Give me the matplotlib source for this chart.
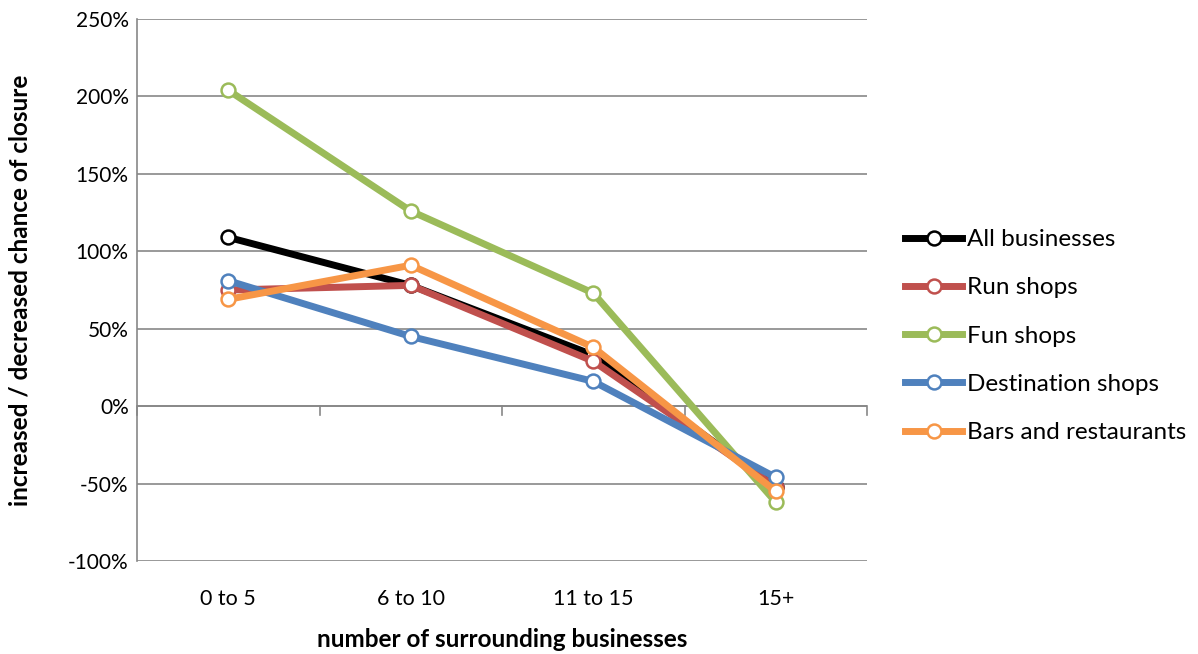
import numpy as np
import matplotlib.pyplot as plt
from matplotlib.ticker import FuncFormatter

plt.rcParams['font.family'] = ['Lato', 'DejaVu Sans']

categories = ['0 to 5', '6 to 10', '11 to 15', '15+']
all_businesses = [109, 78, 33, -52]
run_shops = [75, 78, 29, -52]
fun_shops = [204, 126, 73, -62]
destination_shops = [81, 45, 16, -46]
bars_restaurants = [69, 91, 38, -55]

series = [
    ('All businesses', all_businesses, '#000000'),
    ('Run shops', run_shops, '#c0504d'),
    ('Fun shops', fun_shops, '#9bbb59'),
    ('Destination shops', destination_shops, '#4f81bd'),
    ('Bars and restaurants', bars_restaurants, '#f79646'),
]

fig = plt.figure(figsize=(11.98, 6.54), dpi=100)
ax = fig.add_axes([0.1144, 0.1422, 0.6093, 0.8287])

x = np.arange(len(categories))
for name, vals, col in series:
    ax.plot(x, vals, color=col, lw=5, marker='o', markersize=10,
            markerfacecolor='white', markeredgecolor=col, markeredgewidth=1.8,
            label=name, solid_joinstyle='round')

ax.set_xlim(-0.5, 3.5)
ax.set_ylim(-100, 250)
ax.set_yticks(np.arange(-100, 251, 50))
ax.yaxis.set_major_formatter(FuncFormatter(lambda v, p: f'{int(v)}%'))
ax.grid(axis='y', color='#878787', lw=1.2)
ax.set_axisbelow(True)

for s in ['top', 'right', 'bottom']:
    ax.spines[s].set_visible(False)
ax.spines['left'].set_color('#878787')
ax.spines['left'].set_linewidth(1.2)

# zero axis with category boundary ticks
ax.axhline(0, color='#878787', lw=1.2, zorder=1)
for b in np.arange(-0.5, 3.6, 1):
    ax.plot([b, b], [0, -5.5], color='#878787', lw=1.2, zorder=1, clip_on=False)

ax.set_xticks(x)
ax.set_xticklabels(categories)
ax.tick_params(axis='x', length=0, pad=20, labelsize=15.5)
ax.tick_params(axis='y', length=0, pad=6, labelsize=15)

ax.set_xlabel('number of surrounding businesses', fontsize=17.5, fontweight='bold', labelpad=14)
ax.set_ylabel('increased / decreased chance of closure', fontsize=17.5, fontweight='bold', labelpad=26)

leg = ax.legend(loc='center left', bbox_to_anchor=(1.052, 0.415), frameon=False,
                fontsize=17.5, handlelength=2.35, handletextpad=0.2, labelspacing=1.12,
                borderaxespad=0, borderpad=0)

fig.savefig('out.png', dpi=100, facecolor='white')
